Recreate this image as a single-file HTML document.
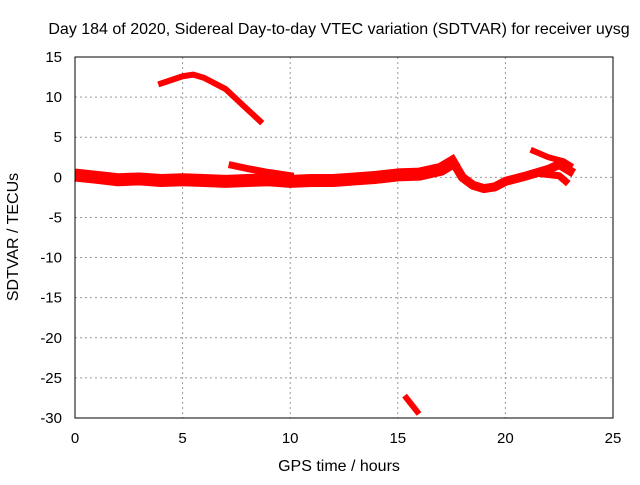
<!DOCTYPE html>
<html><head><meta charset="utf-8"><style>
body{margin:0;background:#fff}
svg text{font-family:"Liberation Sans",sans-serif;font-size:15px;fill:#000}
</style></head><body>
<svg id="c" width="640" height="480">
<text x="339" y="34" text-anchor="middle" style="font-size:16px">Day 184 of 2020, Sidereal Day-to-day VTEC variation (SDTVAR) for receiver uysg</text>
<text x="339" y="471" text-anchor="middle" style="font-size:16px">GPS time / hours</text>
<text transform="translate(18,237) rotate(-90)" text-anchor="middle" style="font-size:16px">SDTVAR / TECUs</text>
<g id="grid"></g><g id="series"></g>
<rect x="75" y="57" width="538" height="361" fill="none" stroke="#000" stroke-width="1"/>
</svg>
<script>
const xTicks=[0,5,10,15,20,25];
const yTicks=[15,10,5,0,-5,-10,-15,-20,-25,-30];
const mainBand=[[0.3,0.2],[1,0],[2,-0.3],[3,-0.2],[4,-0.4],[5,-0.3],[6,-0.4],[7,-0.5],[8,-0.4],[9,-0.3],[10,-0.5],[11,-0.4],[12,-0.4],[13,-0.2],[14,0],[15,0.3],[16,0.4],[17,1.0],[17.5,1.8]];
const upperBranch=[[7.3,1.5],[8,1.1],[9,0.6],[10,0.2]];
const topArc=[[4,11.7],[5,12.6],[5.5,12.8],[6,12.4],[7,11],[8,8.5],[8.6,7]];
const dipSeries=[[17.6,1.8],[18,0],[18.5,-1],[19,-1.4],[19.5,-1.2],[20,-0.5],[21,0.2],[22,1],[22.5,1.6],[23,0.8]];
const spikeSeries=[[21.3,3.3],[22,2.5],[22.7,2],[23,1.5]];
const lowerTail=[[21.5,0.5],[22.5,0.2],[22.8,-0.5]];
const bottomBit=[[15.4,-27.5],[15.9,-29.2]];
const X=h=>75+h*538/25, Y=v=>57+(15-v)*361/45;
const NS='http://www.w3.org/2000/svg';
const g=document.getElementById('grid'), s=document.getElementById('series');
function mk(t,a,p){const e=document.createElementNS(NS,t);for(const k in a)e.setAttribute(k,a[k]);p.appendChild(e);return e;}
xTicks.forEach(t=>{
 if(t>0&&t<25){const l=mk('line',{x1:X(t),x2:X(t),y1:57,y2:418,stroke:'#999','stroke-dasharray':'2,3'},g);
 
 }
 const tx=mk('text',{x:X(t),y:443,'text-anchor':'middle'},g);tx.textContent=t;
 
 
});
yTicks.forEach(t=>{
 if(t<15&&t>-30){const l=mk('line',{x1:75,x2:613,y1:Y(t),y2:Y(t),stroke:'#999','stroke-dasharray':'2,3'},g);
 
 }
 const tx=mk('text',{x:62,y:Y(t)+5,'text-anchor':'end'},g);tx.textContent=t;
 
 
});
function draw(d,w,name){
 const p=mk('polyline',{points:d.map(q=>X(q[0])+','+Y(q[1])).join(' '),fill:'none',stroke:'#f00','stroke-width':w,'stroke-linejoin':'round','stroke-linecap':'square'},s);
 
 
}
draw(mainBand,13,'main-band-series');
draw(upperBranch,7,'upper-branch-series');
draw(topArc,6,'top-arc-series');
draw(dipSeries,9,'dip-series');
draw(spikeSeries,6,'spike-series');
draw(lowerTail,7,'lower-tail-series');
draw(bottomBit,6,'bottom-series');
</script>
</body></html>
